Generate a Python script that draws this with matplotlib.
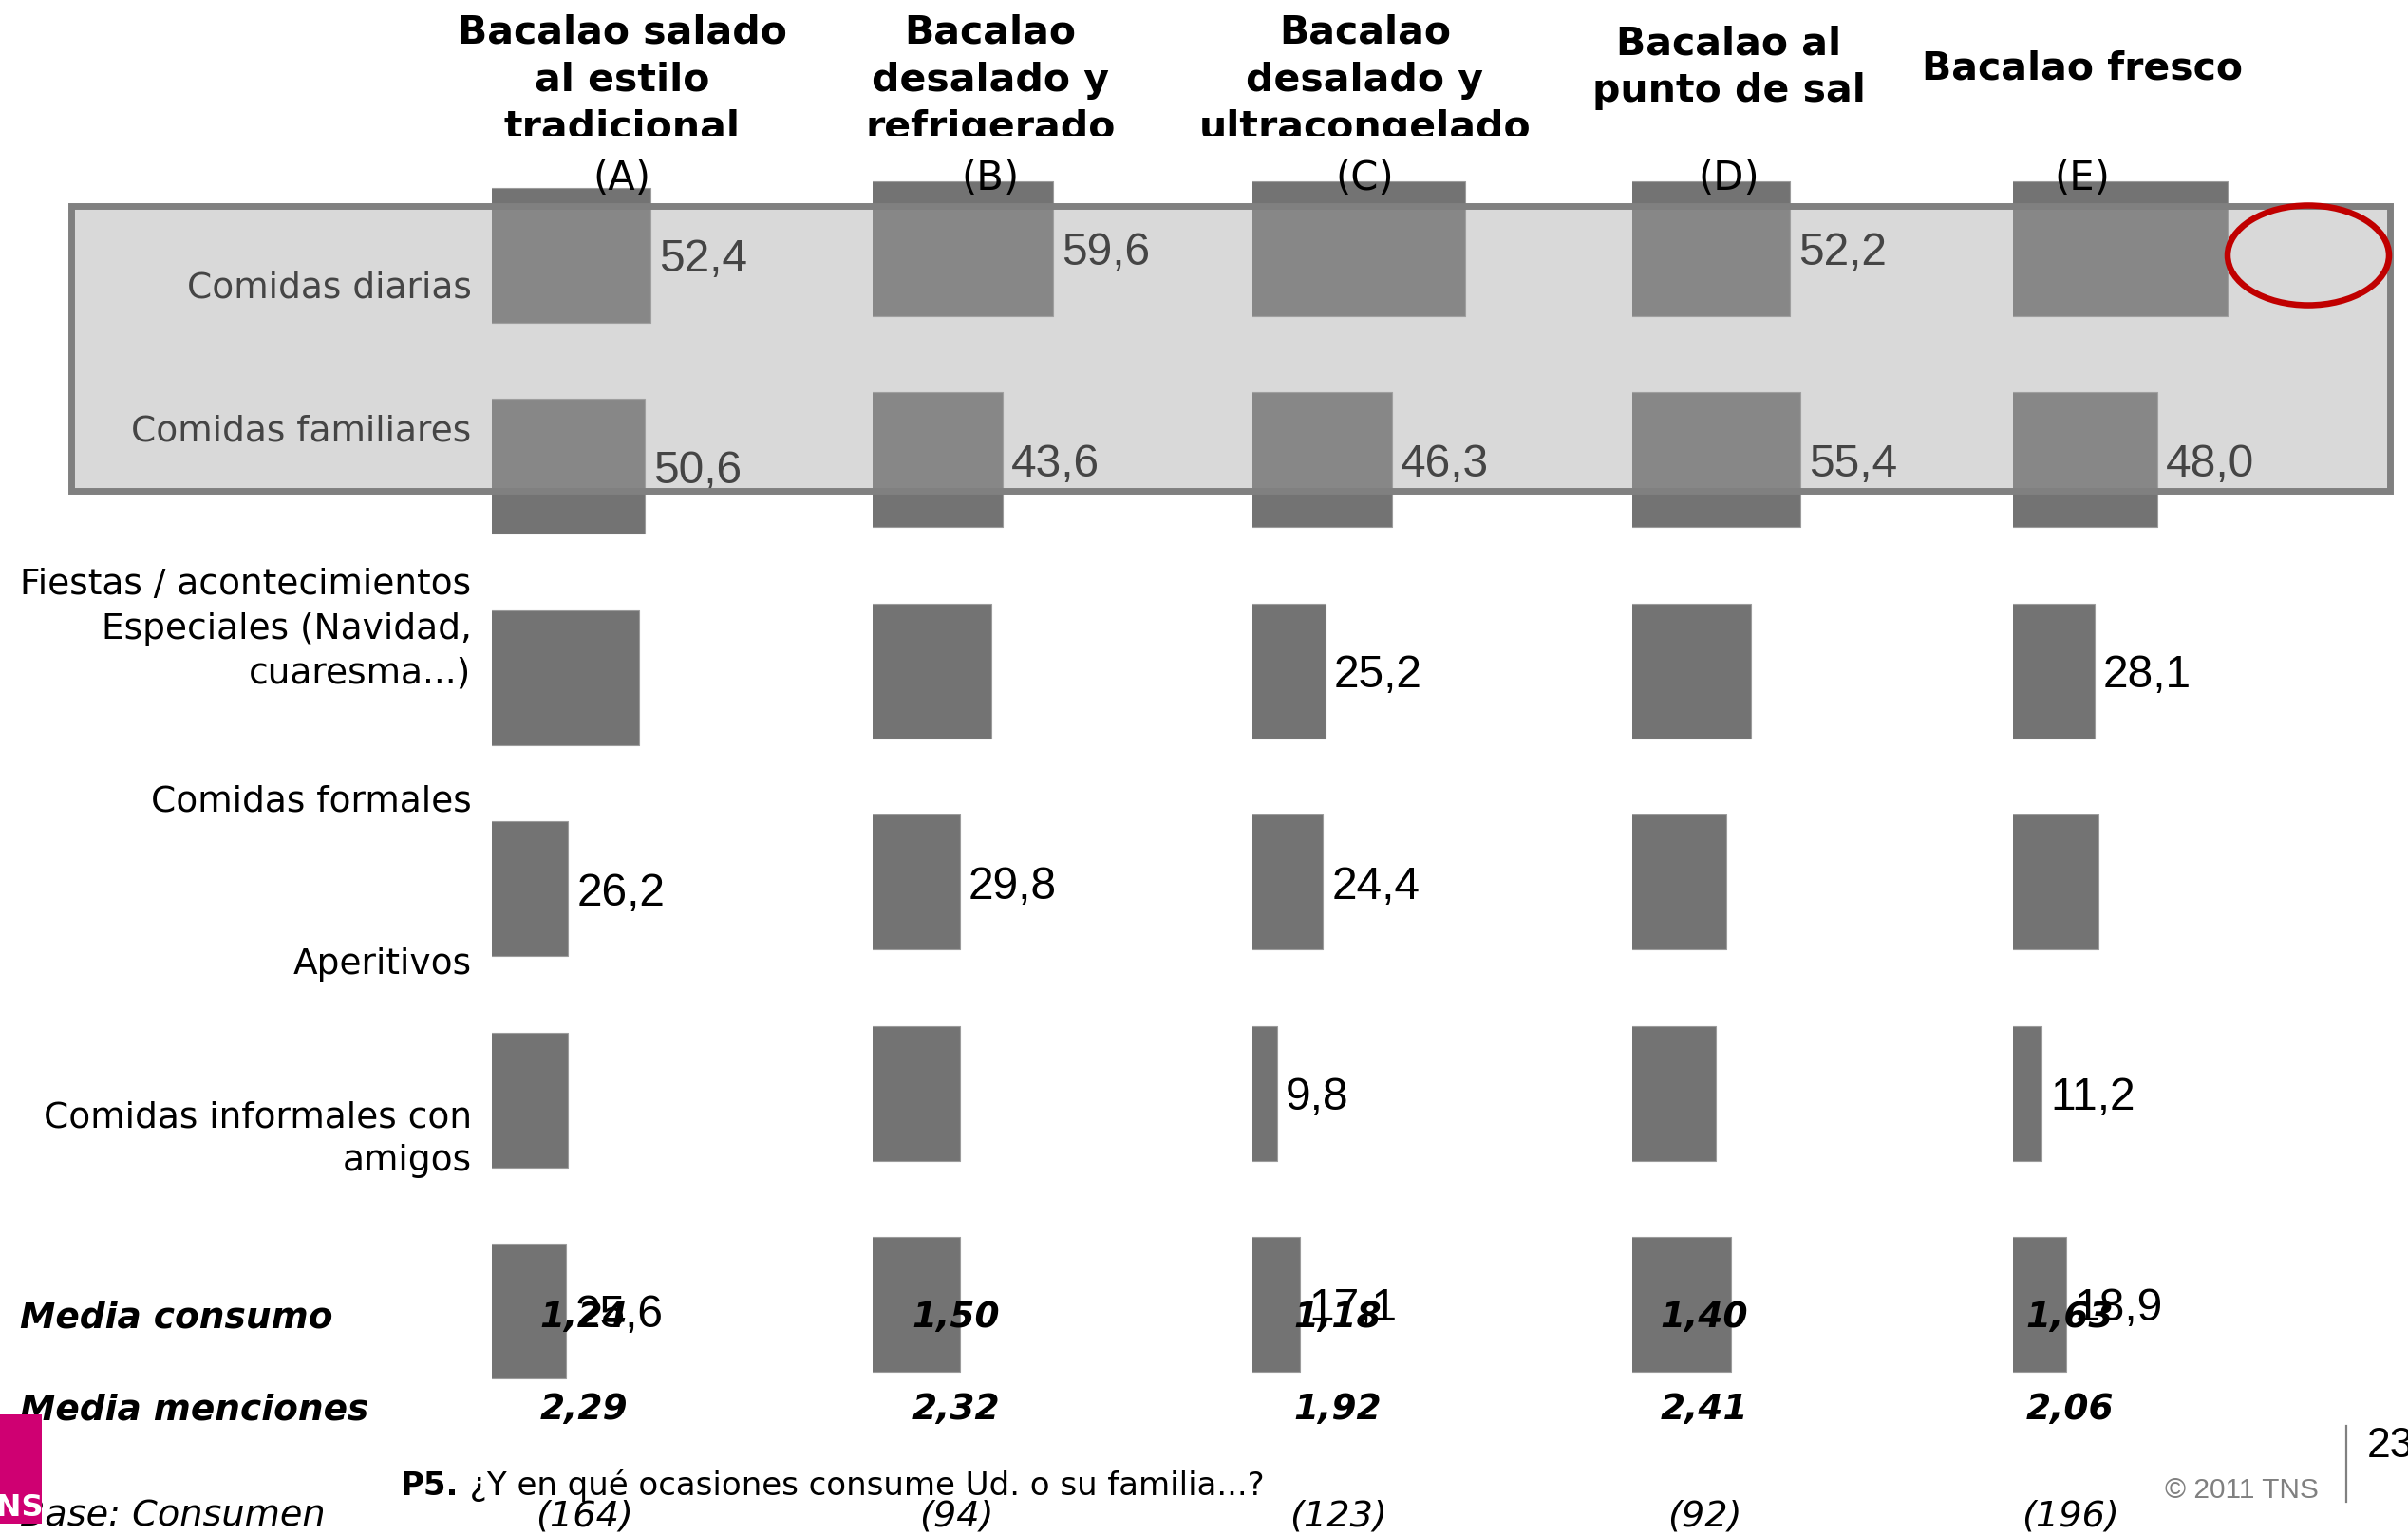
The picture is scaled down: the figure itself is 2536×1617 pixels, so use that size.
import matplotlib
matplotlib.use("Agg")
import matplotlib.pyplot as plt
from matplotlib.patches import Rectangle, Ellipse

W, H = 2536, 1617
DPI = 100

# ── Data ─────────────────────────────────────────────────────────────────────
products = [
    ["Bacalao salado", "al estilo", "tradicional"],
    ["Bacalao", "desalado y", "refrigerado"],
    ["Bacalao", "desalado y", "ultracongelado"],
    ["Bacalao al", "punto de sal"],
    ["Bacalao fresco"],
]
letters = ["(A)", "(B)", "(C)", "(D)", "(E)"]

occasions = ["Comidas diarias", "Comidas familiares",
             "Fiestas / acontecimientos\nEspeciales (Navidad,\ncuaresma...)",
             "Comidas formales", "Aperitivos",
             "Comidas informales con\namigos"]

# % per occasion (rows) for each product (A..E)
pct_a = [52.4, 50.6, 48.7, 26.2, 26.1, 25.6]
pct_b = [59.6, 43.6, 39.9, 29.8, 30.0, 30.0]
pct_c = [69.7, 46.3, 25.2, 24.4, 9.8, 17.1]
pct_d = [52.2, 55.4, 39.8, 31.8, 28.5, 33.4]
pct_e = [70.5, 48.0, 28.1, 29.3, 11.2, 18.9]
series = [pct_a, pct_b, pct_c, pct_d, pct_e]

# which bars carry a data label
show_a = [1, 1, 0, 1, 0, 1]
show_b = [1, 1, 0, 1, 0, 0]
show_c = [0, 1, 1, 1, 1, 1]
show_d = [1, 1, 0, 0, 0, 0]
show_e = [0, 1, 1, 0, 1, 1]
shown = [show_a, show_b, show_c, show_d, show_e]

media_consumo = ["1,24", "1,50", "1,18", "1,40", "1,63"]
media_menciones = ["2,29", "2,32", "1,92", "2,41", "2,06"]
base_n = ["(164)", "(94)", "(123)", "(92)", "(196)"]

# ── Layout (pixels) ──────────────────────────────────────────────────────────
col_left = [518, 918.6, 1319, 1719.2, 2119.5]
col_first_center = [269, 262, 262, 262, 262]
row_step = 222.4
bar_h_px = 142
px_per_unit = 3.3
x_origin = 1.86          # value at the left edge of each bar panel
head_x = [655, 1043, 1437.5, 1821, 2193]
head_base = [46, 46, 46, 57, 84]
foot_x = [615, 1007, 1409, 1795, 2180]

BAR = "#737373"
FONT = "DejaVu Sans"
NUM = "Liberation Sans"

fig = plt.figure(figsize=(W / DPI, H / DPI), dpi=DPI)
fig.patch.set_facecolor("white")

# ── Bars, one narrow panel per product ───────────────────────────────────────
panel_w = 420
for j, vals in enumerate(series):
    top = col_first_center[j] - row_step / 2
    bx = fig.add_axes([col_left[j] / W, 1 - (top + 6 * row_step) / H,
                       panel_w / W, 6 * row_step / H], zorder=1)
    bx.patch.set_visible(False)
    bx.axis("off")
    rows = list(range(len(vals)))
    bx.barh(rows, vals, height=bar_h_px / row_step, color=BAR,
            edgecolor="#9c9c9c", linewidth=0.8)
    bx.set_ylim(len(vals) - 0.5, -0.5)
    bx.set_xlim(x_origin, x_origin + panel_w / px_per_unit)
    for i, v in enumerate(vals):
        if shown[j][i]:
            bx.annotate(f"{v:.1f}".replace(".", ","), (v, i),
                        xytext=(6.5, -3.5), textcoords="offset points",
                        ha="left", va="center", fontsize=34.5,
                        family=NUM, color="black")

# ── Overlay: text, highlight box, footer ─────────────────────────────────────
ax = fig.add_axes([0, 0, 1, 1], zorder=2)
ax.patch.set_visible(False)
ax.set_xlim(0, W)
ax.set_ylim(H, 0)
ax.axis("off")

label_base = [[314], [464], [626, 672.5, 719], [854.6], [1026], [1187, 1233]]
for text, bases in zip(occasions, label_base):
    for line, yb in zip(text.split("\n"), bases):
        ax.text(496.5, yb, line, ha="right", va="baseline", fontsize=27,
                family=FONT, color="black", zorder=1)

# translucent highlight over the first two occasions
ax.add_patch(Rectangle((75, 217), 2442, 300,
                       facecolor=(165 / 255, 165 / 255, 165 / 255, 0.42),
                       edgecolor="#808080", linewidth=5, zorder=2))
ax.add_patch(Ellipse((2431, 269), 170, 105, facecolor="none",
                     edgecolor="#c00000", linewidth=4.7, zorder=3))

for j in range(5):
    ax.text(head_x[j], 200, letters[j], ha="center", va="baseline",
            fontsize=30, family=FONT, color="black", zorder=3)
    ax.text(foot_x[j], 1398, media_consumo[j], ha="center", va="baseline",
            fontsize=27, family=FONT, weight="bold", style="italic", zorder=3)
    ax.text(foot_x[j], 1495, media_menciones[j], ha="center", va="baseline",
            fontsize=27, family=FONT, weight="bold", style="italic", zorder=3)
    ax.text(foot_x[j], 1607, base_n[j], ha="center", va="baseline",
            fontsize=27.5, family=FONT, style="italic", zorder=3)

ax.text(21, 1398, "Media consumo", ha="left", va="baseline", fontsize=27,
        family=FONT, weight="bold", style="italic", zorder=3)
ax.text(21, 1495, "Media menciones", ha="left", va="baseline", fontsize=27,
        family=FONT, weight="bold", style="italic", zorder=3)
ax.text(21, 1607, "Base: Consumen", ha="left", va="baseline", fontsize=27.5,
        family=FONT, style="italic", zorder=3)

q = ax.text(422, 1575, "P5.", ha="left", va="baseline", fontsize=24.5,
            family=FONT, weight="bold", zorder=3)
ax.annotate(" ¿Y en qué ocasiones consume Ud. o su familia...?",
            xycoords=q, xy=(1, 0), va="bottom", ha="left", fontsize=24.5,
            family=FONT, zorder=3)

ax.text(2442, 1578, "© 2011 TNS", ha="right", va="baseline", fontsize=21.5,
        family=NUM, color="#808080", zorder=3)
ax.plot([2470.5, 2470.5], [1502, 1582], color="#808080", linewidth=1.6,
        zorder=3)
ax.text(2493, 1535, "23", ha="left", va="baseline", fontsize=32,
        family=NUM, color="black", zorder=3)

# corner logo
ax.add_patch(Rectangle((0, 1490), 44, 115, facecolor="#cf0072",
                       edgecolor="none", zorder=4))
ax.text(46, 1597, "TNS", ha="right", va="baseline", fontsize=23,
        family=FONT, weight="bold", color="white", zorder=5)

# ── Column headers (clipped at the top band) ────────────────────────────────
hx = fig.add_axes([0, 1 - 143 / H, 1, 143 / H], zorder=3)
hx.patch.set_visible(False)
hx.set_xlim(0, W)
hx.set_ylim(143, 0)
hx.axis("off")
for j, lines in enumerate(products):
    for k, line in enumerate(lines):
        hx.text(head_x[j], head_base[j] + 50 * k, line, ha="center",
                va="baseline", fontsize=29.5, family=FONT, weight="bold",
                color="black", clip_on=True)

fig.savefig("out.png", dpi=DPI, facecolor="white")
